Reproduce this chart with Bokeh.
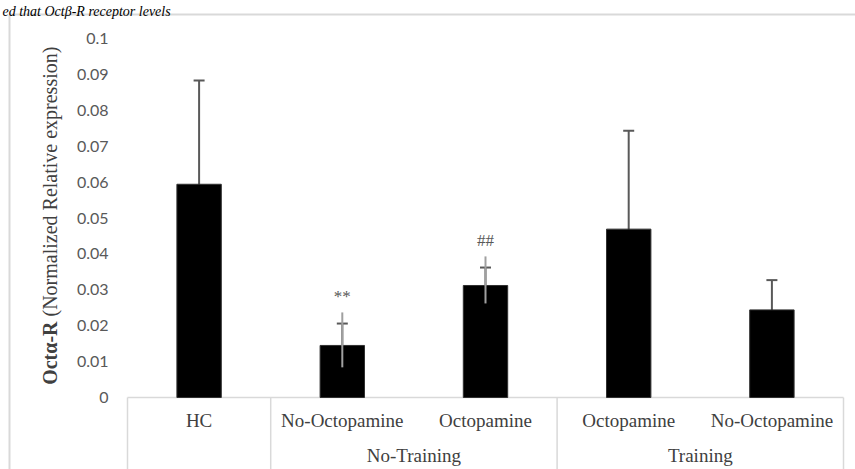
from math import pi
from bokeh.plotting import figure
from bokeh.models import (Range1d, FixedTicker, NumeralTickFormatter, LinearAxis,
                          Whisker, ColumnDataSource, Label, TeeHead)
from bokeh.core.properties import value
from bokeh.embed import file_html
from bokeh.resources import INLINE

# ---- data ----
groups = ["", "No-Training", "No-Training", "Training", "Training"]
conditions = ["HC", "No-Octopamine", "Octopamine", "Octopamine", "No-Octopamine"]
means = [0.0594, 0.0145, 0.0312, 0.0469, 0.0244]
errors = [0.0289, 0.0061, 0.0050, 0.0274, 0.0083]
upper_extra = [0.0, 0.0092, 0.0081, 0.0, 0.0]
marks = ["", "**", "##", "", ""]
y_ticks = [0, 0.01, 0.02, 0.03, 0.04, 0.05, 0.06, 0.07, 0.08, 0.09, 0.1]
y_label_bold = "Octα-R"
y_label_rest = "(Normalized Relative expression)"
top_fragment = "ed that Octβ-R receptor levels"

# ---- layout (pixels) ----
W, H = 855, 469
PX_LEFT, PX_RIGHT = 127, 843      # plot area horizontal extent
PX_ZERO, PX_TOP = 397, 38         # pixel rows of y=0 and y=0.1
n = len(conditions)
cat_px = (PX_RIGHT - PX_LEFT) / n
unit_px = (PX_ZERO - PX_TOP) / 0.1

def px_x(px):
    return (px - PX_LEFT) / cat_px

def px_y(py):
    return (PX_ZERO - py) / unit_px

p = figure(width=W, height=H, output_backend="svg", toolbar_location=None,
           x_range=Range1d(px_x(0), px_x(W)), y_range=Range1d(px_y(H), px_y(0)),
           x_axis_type=None, y_axis_type=None, title=None,
           min_border=0, min_border_left=0, min_border_right=0,
           min_border_top=0, min_border_bottom=0)
p.outline_line_color = None
p.background_fill_color = "white"
p.border_fill_color = "white"

xs = [i + 0.5 for i in range(n)]

# outer chart border (light grey, left and top)
border_c = "#d9d9d9"
p.segment(x0=[px_x(9), px_x(9)], y0=[px_y(14), px_y(14)],
          x1=[px_x(9), px_x(W + 5)], y1=[px_y(H + 5), px_y(14)],
          line_color=border_c, line_width=2)

# category axis frame: base line and group separators
bounds = [0] + [i for i in range(1, n) if groups[i] != groups[i - 1]] + [n]
p.segment(x0=bounds, x1=bounds, y0=[0] * len(bounds), y1=[px_y(H + 5)] * len(bounds),
          line_color=border_c, line_width=1.5)
p.segment(x0=[0], x1=[n], y0=[0], y1=[0], line_color=border_c, line_width=1.5)

# bars
p.vbar(x=xs, top=means, width=0.31, fill_color="black", line_color="#303030", line_width=1)

# error bars
src = ColumnDataSource(dict(
    x=xs,
    upper=[m + e for m, e in zip(means, errors)],
    lower=[m - e for m, e in zip(means, errors)],
))
err_c = "#595959"
p.add_layout(Whisker(base="x", upper="upper", lower="lower", source=src,
                     line_color=err_c, line_width=2,
                     upper_head=TeeHead(size=11, line_color=err_c, line_width=2),
                     lower_head=TeeHead(size=11, line_color=err_c, line_width=2)))

idx = [i for i, u in enumerate(upper_extra) if u > 0]
p.segment(x0=[xs[i] for i in idx], x1=[xs[i] for i in idx],
          y0=[means[i] - errors[i] for i in idx],
          y1=[means[i] + upper_extra[i] for i in idx],
          line_color="#a0a0a0", line_width=2)

p.text(x=[xs[i] for i in idx], y=[means[i] + upper_extra[i] + 0.0045 for i in idx],
       text=[marks[i] for i in idx], text_align="center", text_baseline="middle",
       text_font_size="17px", text_color=err_c, text_font=value("Liberation Serif"))

# y axis (fixed at the left edge of the plot area)
ya = LinearAxis(fixed_location=0, ticker=FixedTicker(ticks=y_ticks),
                formatter=NumeralTickFormatter(format="0.[00]"))
ya.axis_line_color = None
ya.major_tick_line_color = None
ya.minor_tick_line_color = None
ya.major_tick_out = 0
ya.major_tick_in = 0
ya.major_label_standoff = 19
ya.major_label_text_font = "Lato"
ya.major_label_text_font_size = "16px"
ya.major_label_text_color = "#595959"
p.add_layout(ya, "left")

# x axis: condition labels
xa = LinearAxis(fixed_location=0, ticker=FixedTicker(ticks=xs),
                major_label_overrides={x: c for x, c in zip(xs, conditions)})
# x axis: group labels
group_names = [g for g in dict.fromkeys(groups) if g]
group_pos = [sum(xs[i] for i in range(n) if groups[i] == g) /
             sum(1 for i in range(n) if groups[i] == g) for g in group_names]
ga = LinearAxis(fixed_location=0, ticker=FixedTicker(ticks=group_pos),
                major_label_overrides={x: g for x, g in zip(group_pos, group_names)})
for ax, standoff in ((xa, 12), (ga, 47)):
    ax.axis_line_color = None
    ax.major_tick_line_color = None
    ax.minor_tick_line_color = None
    ax.major_tick_out = 0
    ax.major_tick_in = 0
    ax.major_label_standoff = standoff
    ax.major_label_text_font = "Liberation Serif"
    ax.major_label_text_font_size = "19px"
    ax.major_label_text_color = "#404040"
    p.add_layout(ax, "below")

# y axis title (bold gene name + regular description)
tx = px_x(49)
p.add_layout(Label(x=tx, y=px_y(321), text=y_label_bold, angle=pi / 2,
                   text_align="right", text_baseline="middle",
                   text_font="Liberation Serif", text_font_style="bold",
                   text_font_size="20px", text_color="#404040"))
p.add_layout(Label(x=tx, y=px_y(316), text=y_label_rest, angle=pi / 2,
                   text_align="left", text_baseline="middle",
                   text_font="Liberation Serif", text_font_style="normal",
                   text_font_size="20px", text_color="#404040"))

# fragment of surrounding text above the chart
p.add_layout(Label(x=px_x(2), y=px_y(11), text=top_fragment,
                   text_align="left", text_baseline="alphabetic",
                   text_font="Liberation Serif", text_font_style="italic",
                   text_font_size="14px", text_color="black"))

open("out.html", "w").write(file_html(p, INLINE))
